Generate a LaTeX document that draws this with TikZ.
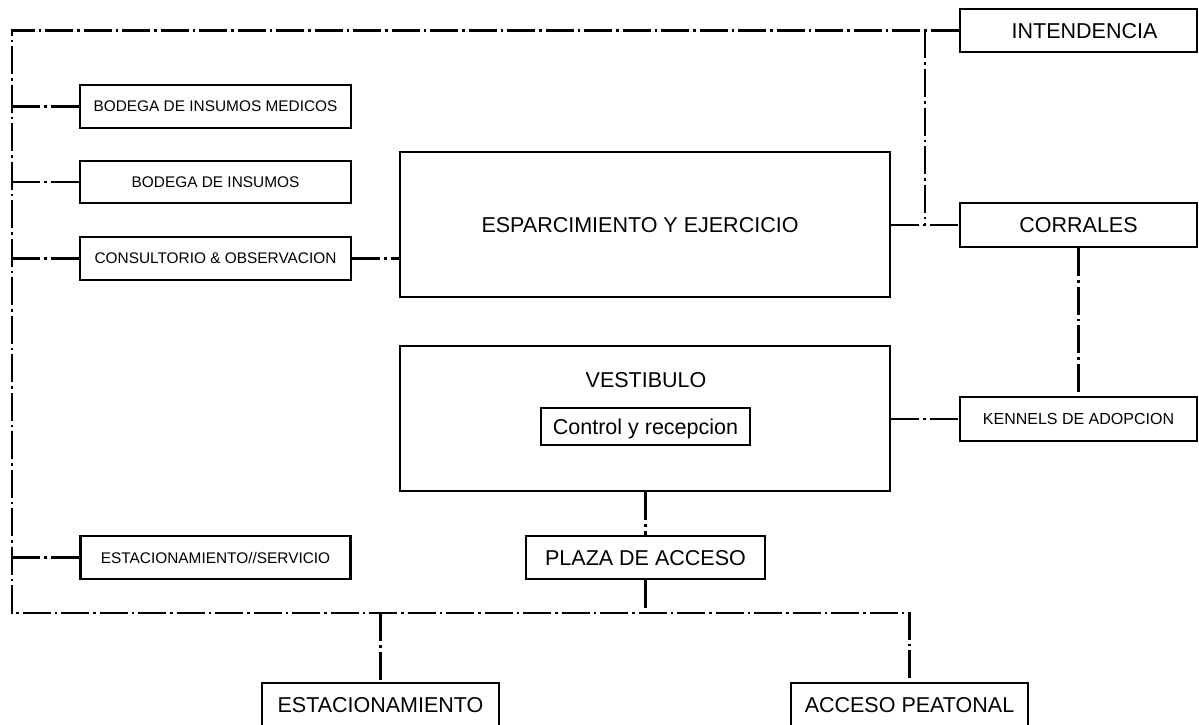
\documentclass[tikz,border=0pt]{standalone}
\usepackage{fontspec}
\setmainfont{Liberation Sans}
\begin{document}
\begin{tikzpicture}[x=1pt,y=-1pt,
  box/.style={draw=black, line width=2.2pt, fill=white, inner sep=0pt, anchor=center, text depth=0pt},
  big/.style={font=\fontsize{21.5}{24}\selectfont},
  small/.style={font=\fontsize{15.4}{18}\selectfont},
  link/.style={draw=black, line width=2.4pt, dash pattern=on 28pt off 4pt on 2.5pt off 4pt}]
\useasboundingbox (0,0) rectangle (1199,725);
\clip (0,0) rectangle (1199,725);
\fill[white] (0,0) rectangle (1199,725);

% left column
\node[box,small,minimum width=271pt,minimum height=43pt] (medicos) at (215.5,106.5) {BODEGA DE INSUMOS MEDICOS};
\node[box,small,minimum width=271pt,minimum height=42pt] (insumos) at (215.5,182) {BODEGA DE INSUMOS};
\node[box,small,minimum width=271pt,minimum height=43pt] (consult) at (215.5,258.5) {CONSULTORIO \& OBSERVACION};
\node[box,small,minimum width=270pt,minimum height=43pt] (estserv) at (215.5,557.5) {ESTACIONAMIENTO//SERVICIO};

% centre
\node[box,big,minimum width=490pt,minimum height=145pt] (espar) at (645,224.5) {ESPARCIMIENTO Y EJERCICIO\kern10pt};
\node[box,minimum width=490pt,minimum height=145pt] (vest) at (645,418.5) {};
\node[big,inner sep=0pt,text depth=0pt] (vestlab) at (646,380) {VESTIBULO};
\node[box,big,minimum width=209pt,minimum height=37pt] (control) at (645.5,426.5) {Control y recepcion};
\node[box,big,minimum width=239pt,minimum height=43pt] (plaza) at (645.5,557.5) {PLAZA DE ACCESO};

% right column
\node[box,big,minimum width=237pt,minimum height=43pt] (intend) at (1078.5,30.5) {\kern12ptINTENDENCIA};
\node[box,big,minimum width=237pt,minimum height=44pt] (corrales) at (1078.5,225) {CORRALES};
\node[box,font=\fontsize{16}{19}\selectfont,minimum width=237pt,minimum height=44pt] (kennels) at (1078.5,419) {KENNELS DE ADOPCION};

% bottom
\node[box,big,minimum width=237pt,minimum height=43pt] (estac) at (380.5,704.5) {ESTACIONAMIENTO};
\node[box,big,minimum width=237pt,minimum height=43pt] (acceso) at (909.5,704.5) {ACCESO PEATONAL};

% coordinates of the trunk
\coordinate (tl) at (12,30.5);
\coordinate (bl) at (12,613);
\coordinate (jn) at (925,30.5);

% trunk
\draw[link] (intend.west) -- (tl) -- (bl) -| (acceso.north);

% branches from the trunk
\draw[link] (medicos.west -| tl) -- (medicos.west);
\draw[link] (insumos.west -| tl) -- (insumos.west);
\draw[link] (consult.west -| tl) -- (consult.west);
\draw[link] (estserv.west -| tl) -- (estserv.west);
\draw[link] (estac.north |- bl) -- (estac.north);

% other links
\draw[link] (consult.east) -- (consult.east -| espar.west);
\draw[link] (espar.east |- corrales.west) -- (corrales.west);
\draw[link] (jn) -- (jn |- corrales.west);
\draw[link] (corrales.south) -- (kennels.north);
\draw[link] (vest.east |- kennels.west) -- (kennels.west);
\draw[link] (vest.south -| plaza.north) -- (plaza.north);
\draw[link] (plaza.south) -- (plaza.south |- bl);
\end{tikzpicture}
\end{document}
